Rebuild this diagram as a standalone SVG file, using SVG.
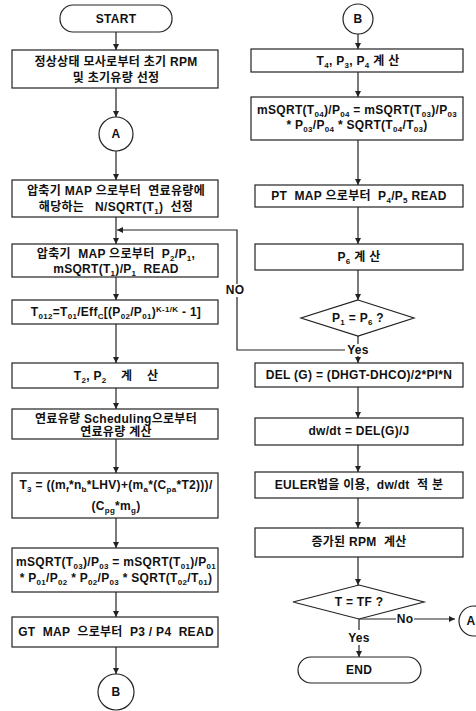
<svg xmlns="http://www.w3.org/2000/svg" width="476" height="711" viewBox="0 0 476 711" xml:space="preserve">
<style>
.bx{fill:#fff;stroke:#222;stroke-width:1.2}
.ln{fill:none;stroke:#222;stroke-width:1.2}
.t{font-family:"Liberation Sans","Noto Sans CJK KR",sans-serif;font-size:12px;font-weight:bold;fill:#111;text-anchor:middle;white-space:pre;letter-spacing:0.3px}
.s{font-size:8px}
</style>
<defs>
<marker id="ar" markerWidth="7" markerHeight="7" refX="6" refY="3.5" orient="auto" markerUnits="userSpaceOnUse">
<path d="M0,0.5 L6,3.5 L0,6.5 Z" fill="#222"/>
</marker>
</defs>
<rect width="476" height="711" fill="#fff"/>

<g id="connectors">
<line class="ln" x1="116" y1="32" x2="116" y2="50" marker-end="url(#ar)"/>
<line class="ln" x1="116" y1="88" x2="116" y2="117" marker-end="url(#ar)"/>
<line class="ln" x1="116" y1="151" x2="116" y2="180" marker-end="url(#ar)"/>
<line class="ln" x1="116" y1="217" x2="116" y2="244" marker-end="url(#ar)"/>
<line class="ln" x1="116" y1="277" x2="116" y2="300" marker-end="url(#ar)"/>
<line class="ln" x1="116" y1="324" x2="116" y2="363" marker-end="url(#ar)"/>
<line class="ln" x1="116" y1="388" x2="116" y2="409" marker-end="url(#ar)"/>
<line class="ln" x1="116" y1="439" x2="116" y2="473" marker-end="url(#ar)"/>
<line class="ln" x1="116" y1="518" x2="116" y2="548" marker-end="url(#ar)"/>
<line class="ln" x1="116" y1="592" x2="116" y2="617" marker-end="url(#ar)"/>
<line class="ln" x1="116" y1="647" x2="116" y2="674" marker-end="url(#ar)"/>
<line class="ln" x1="358" y1="34" x2="358" y2="49" marker-end="url(#ar)"/>
<line class="ln" x1="358" y1="72" x2="358" y2="97" marker-end="url(#ar)"/>
<line class="ln" x1="358" y1="140" x2="358" y2="185" marker-end="url(#ar)"/>
<line class="ln" x1="358" y1="207" x2="358" y2="244" marker-end="url(#ar)"/>
<line class="ln" x1="358" y1="270" x2="358" y2="300" marker-end="url(#ar)"/>
<line class="ln" x1="358" y1="336" x2="358" y2="344"/>
<line class="ln" x1="358" y1="356" x2="358" y2="363" marker-end="url(#ar)"/>
<polyline class="ln" points="345,350 237,350 237,297"/>
<polyline class="ln" points="237,284 237,230 117,230" marker-end="url(#ar)"/>
<line class="ln" x1="358" y1="387" x2="358" y2="418" marker-end="url(#ar)"/>
<line class="ln" x1="358" y1="445" x2="358" y2="472" marker-end="url(#ar)"/>
<line class="ln" x1="358" y1="498" x2="358" y2="528" marker-end="url(#ar)"/>
<line class="ln" x1="358" y1="557" x2="358" y2="585" marker-end="url(#ar)"/>
<line class="ln" x1="359" y1="619" x2="359" y2="630"/>
<line class="ln" x1="359" y1="645" x2="359" y2="657" marker-end="url(#ar)"/>
<line class="ln" x1="359" y1="619" x2="396" y2="619"/>
<line class="ln" x1="414" y1="619" x2="455" y2="619" marker-end="url(#ar)"/>
<text class="t" x="235" y="294">NO</text>
<text class="t" x="358" y="354">Yes</text>
<text class="t" x="359" y="642">Yes</text>
<text class="t" x="405" y="623">No</text>
</g>

<g id="start">
<rect class="bx" x="60" y="5" width="112" height="27" rx="13"/>
<text class="t" x="116" y="23">START</text>
</g>
<g id="b1">
<rect class="bx" x="12" y="50" width="206" height="38"/>
<text class="t" x="116" y="66">정상상태 모사로부터 초기 RPM</text>
<text class="t" x="116" y="82">및 초기유량 선정</text>
</g>
<g id="connA1">
<circle class="bx" cx="116" cy="134" r="17"/>
<text class="t" x="116" y="138">A</text>
</g>
<g id="b2">
<rect class="bx" x="12" y="180" width="206" height="37"/>
<text class="t" x="116" y="195">압축기 MAP 으로부터  연료유량에</text>
<text class="t" x="116" y="211">해당하는   N/SQRT(T<tspan class="s" dy="3">1</tspan><tspan dy="-3">)  선정</tspan></text>
</g>
<g id="b3">
<rect class="bx" x="12" y="244" width="206" height="33"/>
<text class="t" x="116" y="258">압축기  MAP 으로부터  P<tspan class="s" dy="3">2</tspan><tspan dy="-3">/P</tspan><tspan class="s" dy="3">1</tspan><tspan dy="-3">,</tspan></text>
<text class="t" x="116" y="273">mSQRT(T<tspan class="s" dy="3">1</tspan><tspan dy="-3">)/P</tspan><tspan class="s" dy="3">1</tspan><tspan dy="-3">  READ</tspan></text>
</g>
<g id="b4">
<rect class="bx" x="12" y="300" width="206" height="24"/>
<text class="t" x="116" y="316">T<tspan class="s" dy="3">012</tspan><tspan dy="-3">=T</tspan><tspan class="s" dy="3">01</tspan><tspan dy="-3">/Eff</tspan><tspan class="s" dy="3">C</tspan><tspan dy="-3">[(P</tspan><tspan class="s" dy="3">02</tspan><tspan dy="-3">/P</tspan><tspan class="s" dy="3">01</tspan><tspan dy="-3">)</tspan><tspan class="s" dy="-4">K-1/K</tspan><tspan dy="4"> - 1]</tspan></text>
</g>
<g id="b5">
<rect class="bx" x="12" y="363" width="206" height="25"/>
<text class="t" x="116" y="380">T<tspan class="s" dy="3">2</tspan><tspan dy="-3">, P</tspan><tspan class="s" dy="3">2</tspan><tspan dy="-3">    계    산</tspan></text>
</g>
<g id="b6">
<rect class="bx" x="12" y="409" width="206" height="30"/>
<text class="t" x="116" y="423">연료유량 Scheduling으로부터</text>
<text class="t" x="116" y="436">연료유량 계산</text>
</g>
<g id="b7">
<rect class="bx" x="12" y="473" width="206" height="45"/>
<text class="t" x="116" y="489">T<tspan class="s" dy="3">3</tspan><tspan dy="-3"> = ((m</tspan><tspan class="s" dy="3">f</tspan><tspan dy="-3">*n</tspan><tspan class="s" dy="3">b</tspan><tspan dy="-3">*LHV)+(m</tspan><tspan class="s" dy="3">a</tspan><tspan dy="-3">*(C</tspan><tspan class="s" dy="3">pa</tspan><tspan dy="-3">*T2)))/</tspan></text>
<text class="t" x="116" y="510">(C<tspan class="s" dy="3">pg</tspan><tspan dy="-3">*m</tspan><tspan class="s" dy="3">g</tspan><tspan dy="-3">)</tspan></text>
</g>
<g id="b8">
<rect class="bx" x="12" y="548" width="206" height="44"/>
<text class="t" x="116" y="566">mSQRT(T<tspan class="s" dy="3">03</tspan><tspan dy="-3">)/P</tspan><tspan class="s" dy="3">03</tspan><tspan dy="-3"> = mSQRT(T</tspan><tspan class="s" dy="3">01</tspan><tspan dy="-3">)/P</tspan><tspan class="s" dy="3">01</tspan></text>
<text class="t" x="116" y="582">* P<tspan class="s" dy="3">01</tspan><tspan dy="-3">/P</tspan><tspan class="s" dy="3">02</tspan><tspan dy="-3"> * P</tspan><tspan class="s" dy="3">02</tspan><tspan dy="-3">/P</tspan><tspan class="s" dy="3">03</tspan><tspan dy="-3"> * SQRT(T</tspan><tspan class="s" dy="3">02</tspan><tspan dy="-3">/T</tspan><tspan class="s" dy="3">01</tspan><tspan dy="-3">)</tspan></text>
</g>
<g id="b9">
<rect class="bx" x="12" y="617" width="206" height="30"/>
<text class="t" x="116" y="636">GT  MAP  으로부터  P3 / P4  READ</text>
</g>
<g id="connB1">
<circle class="bx" cx="116" cy="692" r="18"/>
<text class="t" x="116" y="696">B</text>
</g>

<g id="connB2">
<circle class="bx" cx="358" cy="19" r="15"/>
<text class="t" x="358" y="23">B</text>
</g>
<g id="r1">
<rect class="bx" x="251" y="49" width="212" height="23"/>
<text class="t" x="358" y="65">T<tspan class="s" dy="3">4</tspan><tspan dy="-3">, P</tspan><tspan class="s" dy="3">3</tspan><tspan dy="-3">, P</tspan><tspan class="s" dy="3">4</tspan><tspan dy="-3"> 계 산</tspan></text>
</g>
<g id="r2">
<rect class="bx" x="251" y="97" width="212" height="43"/>
<text class="t" x="357" y="114">mSQRT(T<tspan class="s" dy="3">04</tspan><tspan dy="-3">)/P</tspan><tspan class="s" dy="3">04</tspan><tspan dy="-3"> = mSQRT(T</tspan><tspan class="s" dy="3">03</tspan><tspan dy="-3">)/P</tspan><tspan class="s" dy="3">03</tspan></text>
<text class="t" x="357" y="129">* P<tspan class="s" dy="3">03</tspan><tspan dy="-3">/P</tspan><tspan class="s" dy="3">04</tspan><tspan dy="-3"> * SQRT(T</tspan><tspan class="s" dy="3">04</tspan><tspan dy="-3">/T</tspan><tspan class="s" dy="3">03</tspan><tspan dy="-3">)</tspan></text>
</g>
<g id="r3">
<rect class="bx" x="255" y="185" width="208" height="22"/>
<text class="t" x="359" y="200">PT  MAP 으로부터  P<tspan class="s" dy="3">4</tspan><tspan dy="-3">/P</tspan><tspan class="s" dy="3">5</tspan><tspan dy="-3"> READ</tspan></text>
</g>
<g id="r4">
<rect class="bx" x="255" y="244" width="208" height="26"/>
<text class="t" x="359" y="261">P<tspan class="s" dy="3">6</tspan><tspan dy="-3"> 계 산</tspan></text>
</g>
<g id="d1">
<polygon class="bx" points="358,300 414,318 358,336 301,318"/>
<text class="t" x="358" y="322">P<tspan class="s" dy="3">1</tspan><tspan dy="-3"> = P</tspan><tspan class="s" dy="3">6</tspan><tspan dy="-3"> ?</tspan></text>
</g>
<g id="r5">
<rect class="bx" x="255" y="363" width="208" height="24"/>
<text class="t" x="359" y="379">DEL (G) = (DHGT-DHCO)/2*PI*N</text>
</g>
<g id="r6">
<rect class="bx" x="255" y="418" width="208" height="27"/>
<text class="t" x="359" y="435">dw/dt = DEL(G)/J</text>
</g>
<g id="r7">
<rect class="bx" x="255" y="472" width="208" height="26"/>
<text class="t" x="359" y="489">EULER법을 이용,  dw/dt  적 분</text>
</g>
<g id="r8">
<rect class="bx" x="255" y="528" width="208" height="29"/>
<text class="t" x="359" y="546">증가된 RPM  계산</text>
</g>
<g id="d2">
<polygon class="bx" points="359,585 424,602 359,619 293,602"/>
<text class="t" x="359" y="606">T = TF ?</text>
</g>
<g id="connA2">
<circle class="bx" cx="474" cy="621" r="15"/>
<text class="t" x="471" y="625">A</text>
</g>
<g id="end">
<rect class="bx" x="298" y="657" width="123" height="26" rx="13"/>
<text class="t" x="359" y="674">END</text>
</g>
</svg>
